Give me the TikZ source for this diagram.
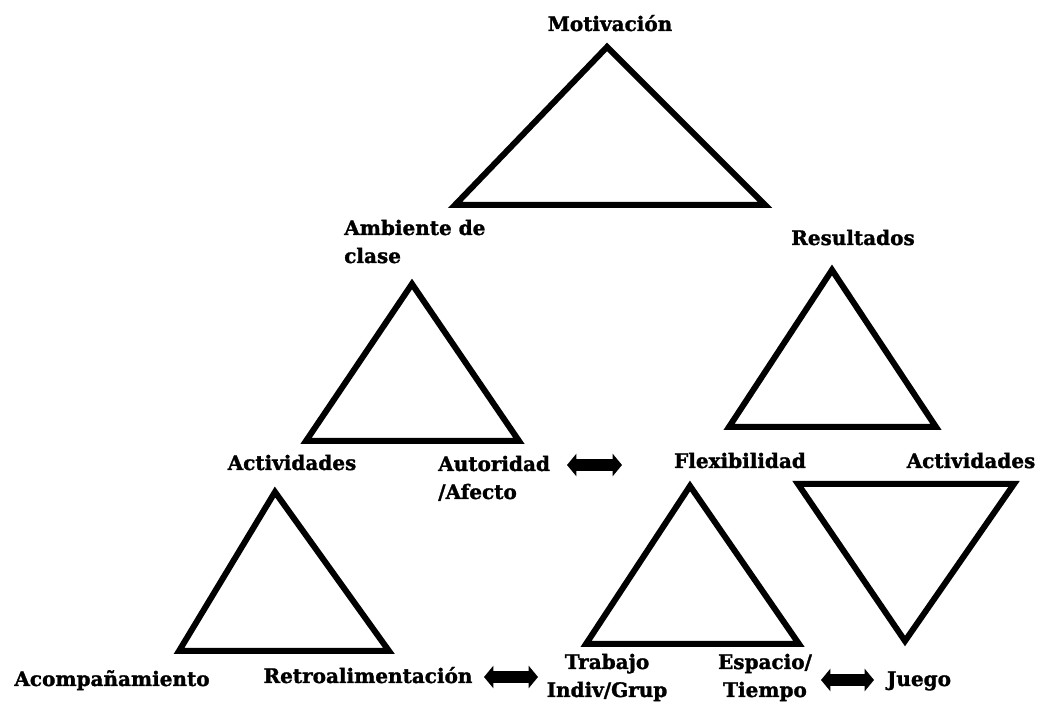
\documentclass[tikz,border=0pt]{standalone}
\usepackage{fontspec}
\setmainfont{DejaVu Serif}[BoldFeatures={FakeBold=1.5}]
\usetikzlibrary{arrows.meta}

\tikzset{
  tri/.style={line width=4.5pt, line join=miter},
  lbl/.style={font=\bfseries\fontsize{15}{21}\selectfont, inner sep=0pt},
  dbl/.style={line width=8.5pt, {Triangle[length=7pt,width=16.5pt]}-{Triangle[length=7pt,width=16.5pt]}}
}

\begin{document}
\begin{tikzpicture}[x=0.75pt,y=-0.75pt]
    \useasboundingbox (0,0) rectangle (1040,705);

    % triangles
    \draw[tri] (607,47) -- (765,205) -- (455,205) -- cycle;
    \draw[tri] (412,284) -- (519,441) -- (306,441) -- cycle;
    \draw[tri] (832,270) -- (936,427) -- (729,427) -- cycle;
    \draw[tri] (275,492) -- (389,651) -- (179,651) -- cycle;
    \draw[tri] (690,486) -- (799,644) -- (586,644) -- cycle;
    \draw[tri] (798,484) -- (1014,484) -- (905,641) -- cycle;

    % labels
    \node[lbl, anchor=base] (motiv) at (610,31) {Motivación};
    \node[lbl, anchor=base west, align=left] (ambiente) at (344,263) {Ambiente de\\clase};
    \node[lbl, anchor=base] (result) at (853,245) {Resultados};
    \node[lbl, anchor=base] (activ1) at (292,470) {Actividades};
    \node[lbl, anchor=base west, align=left] (autor) at (438,499) {Autoridad\\/Afecto};
    \node[lbl, anchor=base] (flex) at (740,468) {Flexibilidad};
    \node[lbl, anchor=base] (activ2) at (971,468) {Actividades};
    \node[lbl, anchor=base] (acomp) at (112,686) {Acompañamiento};
    \node[lbl, anchor=base] (retro) at (368,683) {Retroalimentación};
    \node[lbl, anchor=base, align=center] (trabajo) at (607,697) {Trabajo\\Indiv/Grup};
    \node[lbl, anchor=base, align=center] (espacio) at (765,697) {Espacio/\\Tiempo};
    \node[lbl, anchor=base] (juego) at (919,686) {Juego};

    % arrows
    \coordinate (a1) at (567,465);
    \coordinate (b1) at (622,465);
    \coordinate (a2) at (484,677);
    \coordinate (b2) at (538,677);
    \coordinate (a3) at (821,680);
    \coordinate (b3) at (874,680);
    \draw[dbl] (a1) -- (b1);
    \draw[dbl] (a2) -- (b2);
    \draw[dbl] (a3) -- (b3);
\end{tikzpicture}
\end{document}
